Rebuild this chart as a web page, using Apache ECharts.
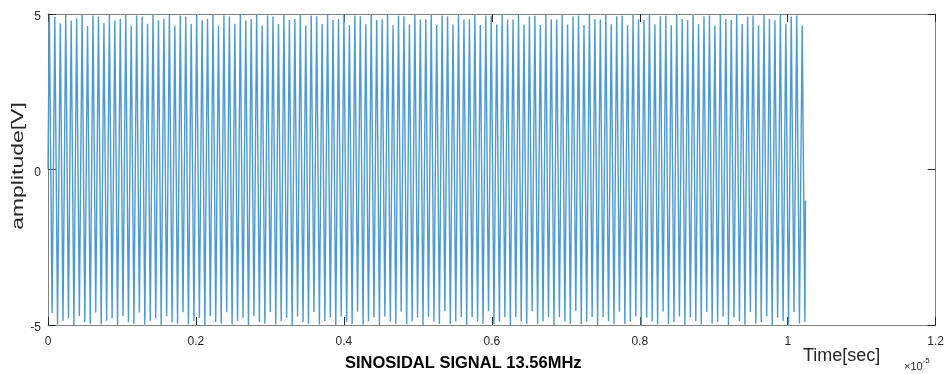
<!DOCTYPE html>
<html><head><meta charset="utf-8">
<script src="https://cdn.jsdelivr.net/npm/echarts@6/dist/echarts.min.js"></script>
<style>html,body{margin:0;padding:0;background:#fff}#c{width:947px;height:374px}</style>
</head><body><div id="c"></div>
<script>
// Signal: 13.56 MHz sinusoid (from the chart title)
const signalFreqHz = 13.56e6;
const xTickLabels = ['0', '0.2', '0.4', '0.6', '0.8', '1', '1.2'];
const yTickLabels = ['-5', '0', '5'];
const startPoint = [0, 0];
const endPoint = [1.024e-5, -1];
// amplitude of each positive peak, cycle by cycle
const peakValues = [
 4.96,4.91,4.70,5.00,4.79,4.86,4.99,4.61,
 4.95,4.92,4.70,5.00,4.79,4.85,4.99,4.62,
 4.95,4.92,4.69,5.00,4.80,4.85,4.99,4.62,
 4.95,4.92,4.69,5.00,4.80,4.85,4.99,4.62,
 4.95,4.92,4.69,5.00,4.80,4.84,4.99,4.63,
 4.95,4.92,4.68,5.00,4.81,4.84,4.99,4.63,
 4.94,4.93,4.68,5.00,4.81,4.84,4.99,4.64,
 4.94,4.93,4.67,4.99,4.81,4.83,4.99,4.64,
 4.94,4.93,4.67,4.99,4.82,4.83,4.99,4.65,
 4.94,4.93,4.66,4.99,4.82,4.83,4.99,4.65,
 4.94,4.94,4.66,4.99,4.82,4.82,5.00,4.66,
 4.93,4.94,4.65,4.99,4.83,4.82,5.00,4.66,
 4.93,4.94,4.65,4.99,4.83,4.82,5.00,4.67,
 4.93,4.94,4.64,4.99,4.83,4.81,5.00,4.67,
 4.93,4.94,4.64,4.99,4.84,4.81,5.00,4.68,
 4.93,4.95,4.63,4.99,4.84,4.81,5.00,4.68,
 4.92,4.95,4.63,4.99,4.84,4.80,5.00,4.69,
 4.92,4.95,4.63
];
// amplitude of each negative trough, cycle by cycle
const troughValues = [
 -4.61,-4.98,-4.86,-4.79,-5.00,-4.71,-4.91,-4.96,
 -4.60,-4.98,-4.86,-4.78,-5.00,-4.71,-4.91,-4.96,
 -4.60,-4.98,-4.86,-4.78,-5.00,-4.72,-4.91,-4.96,
 -4.59,-4.98,-4.87,-4.77,-5.00,-4.72,-4.90,-4.96,
 -4.59,-4.98,-4.87,-4.77,-5.00,-4.72,-4.90,-4.96,
 -4.58,-4.98,-4.87,-4.77,-5.00,-4.73,-4.90,-4.96,
 -4.58,-4.98,-4.87,-4.76,-5.00,-4.73,-4.90,-4.97,
 -4.57,-4.98,-4.88,-4.76,-5.00,-4.73,-4.89,-4.97,
 -4.57,-4.97,-4.88,-4.76,-5.00,-4.74,-4.89,-4.97,
 -4.56,-4.97,-4.88,-4.75,-5.00,-4.74,-4.89,-4.97,
 -4.56,-4.97,-4.89,-4.75,-5.00,-4.75,-4.89,-4.97,
 -4.56,-4.97,-4.89,-4.74,-5.00,-4.75,-4.88,-4.97,
 -4.56,-4.97,-4.89,-4.74,-5.00,-4.75,-4.88,-4.97,
 -4.57,-4.97,-4.89,-4.73,-5.00,-4.76,-4.88,-4.98,
 -4.57,-4.97,-4.90,-4.73,-5.00,-4.76,-4.87,-4.98,
 -4.58,-4.96,-4.90,-4.73,-5.00,-4.76,-4.87,-4.98,
 -4.58,-4.96,-4.90,-4.72,-5.00,-4.77,-4.87,-4.98,
 -4.59,-4.96,-4.90
];

const data = [startPoint];
for (let k = 0; k < peakValues.length; k++) {
  data.push([(k + 0.25) / signalFreqHz, peakValues[k]]);
  if (k < troughValues.length) data.push([(k + 0.75) / signalFreqHz, troughValues[k]]);
}
data.push(endPoint);

const FONT = 'Liberation Sans, Arial, Helvetica, sans-serif';
const axisGray = '#808080';
const labelColor = '#262626';
const xFmt = v => xTickLabels[Math.round(v / 2e-6)] || '';
const yFmt = v => yTickLabels[Math.round((v + 5) / 5)] || '';

const baseX = {
  type: 'value', min: 0, max: 12e-6, interval: 2e-6,
  axisLine: { show: true, onZero: false, lineStyle: { color: axisGray, width: 1 } },
  axisTick: { show: true, inside: true, length: 8, lineStyle: { color: '#262626' } },
  splitLine: { show: false }
};
const baseY = {
  type: 'value', min: -5, max: 5, interval: 5,
  axisLine: { show: true, onZero: false, lineStyle: { color: axisGray, width: 1 } },
  axisTick: { show: true, inside: true, length: 8, lineStyle: { color: '#262626' } },
  splitLine: { show: false }
};

const chart = echarts.init(document.getElementById('c'), null, { renderer: 'canvas' });
chart.setOption({
  animation: false,
  backgroundColor: '#fff',
  grid: { left: 48, right: 10, top: 14, bottom: 49, containLabel: false },
  xAxis: [
    Object.assign({}, baseX, { position: 'bottom',
      axisLabel: { formatter: xFmt, color: labelColor, fontSize: 12, fontFamily: FONT, margin: 11 } }),
    Object.assign({}, baseX, { position: 'top', axisLabel: { show: false } })
  ],
  yAxis: [
    Object.assign({}, baseY, { position: 'left',
      axisLabel: { formatter: yFmt, color: labelColor, fontSize: 12, fontFamily: FONT, margin: 7,
        verticalAlign: 'top', lineHeight: 6 } }),
    Object.assign({}, baseY, { position: 'right', axisLabel: { show: false } })
  ],
  series: [{
    type: 'line', data: data, xAxisIndex: 0, yAxisIndex: 0,
    showSymbol: false, symbol: 'none', sampling: null, clip: true,
    lineStyle: { color: '#4a9ad4', width: 1.4 }
  }],
  graphic: [
    { type: 'text', x: 18, y: 166, rotation: Math.PI / 2, scaleX: 1.35,
      style: { text: 'amplitude[V]', fontSize: 17, fill: labelColor, fontFamily: FONT, align: 'center', verticalAlign: 'middle' } },
    { type: 'text', left: 345, top: 355,
      style: { text: 'SINOSIDAL SIGNAL 13.56MHz', fontSize: 16.5, fontWeight: 'bold', fill: '#000', fontFamily: FONT } },
    { type: 'text', left: 803, top: 347,
      style: { text: 'Time[sec]', fontSize: 18, fill: labelColor, fontFamily: FONT } },
    { type: 'text', left: 904, top: 357,
      style: { text: '{a|×10}{b|-5}', fill: labelColor, fontFamily: FONT,
        rich: { a: { fontSize: 11, fill: labelColor, fontFamily: FONT, verticalAlign: 'bottom' },
                b: { fontSize: 8, fill: labelColor, fontFamily: FONT, verticalAlign: 'top', padding: [0,0,7,0] } } } }
  ]
});
</script>
</body></html>
